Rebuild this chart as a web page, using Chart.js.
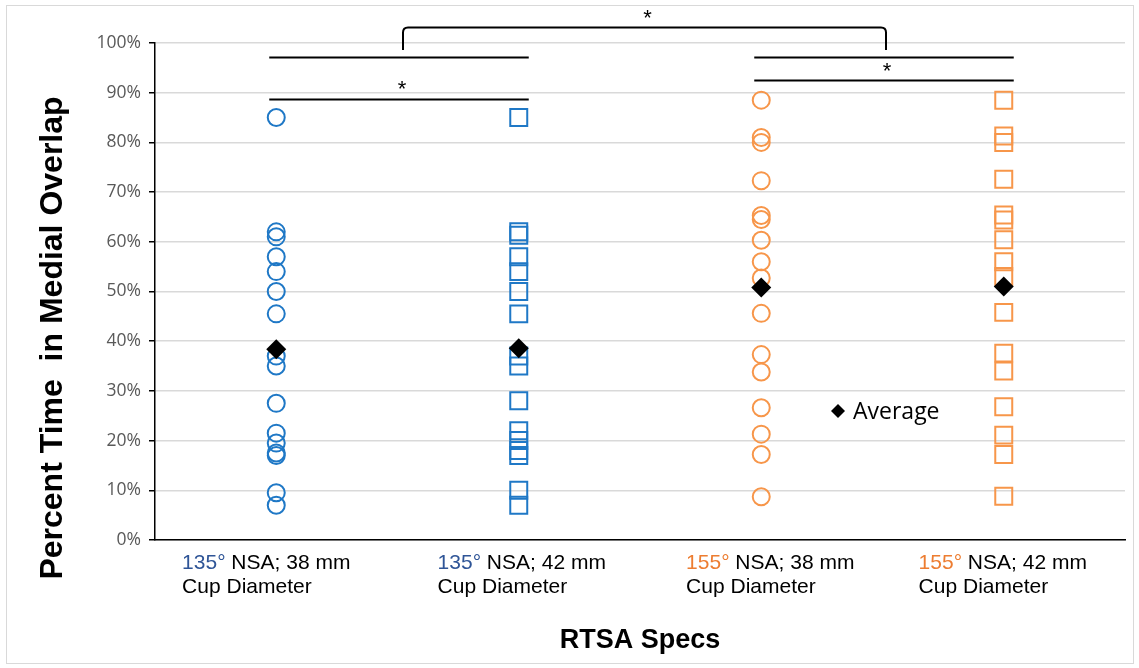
<!DOCTYPE html>
<html>
<head>
<meta charset="utf-8">
<script src="https://cdn.jsdelivr.net/npm/chart.js@4.4.1/dist/chart.umd.min.js"></script>
<style>
  html, body { margin: 0; padding: 0; background: #fff; }
  #chart { display: block; }
</style>
</head>
<body>
<canvas id="chart" width="1139" height="668"></canvas>
<script>
/* ---- Data ---- */
const categories = ["135_38", "135_42", "155_38", "155_42"];
const labelAngle = ["135°", "135°", "155°", "155°"];
const labelRest = [" NSA; 38 mm", " NSA; 42 mm", " NSA; 38 mm", " NSA; 42 mm"];
const labelLine2 = "Cup Diameter";
const yTicks = [0, 10, 20, 30, 40, 50, 60, 70, 80, 90, 100];

const nsa135cup38 = [85, 62, 61, 57, 54, 50, 45.5, 37, 35, 27.5, 21.5, 19.5, 17.5, 17, 9.5, 7];
const nsa135cup42 = [85, 62, 61.3, 57, 54, 50, 45.5, 37, 35, 28, 22, 20, 18, 17, 10, 7];
const nsa155cup38 = [88.5, 81, 80, 72.3, 65.3, 64.5, 60.3, 56, 52.7, 45.6, 37.3, 33.8, 26.6, 21.3, 17.2, 8.7];
const nsa155cup42 = [88.5, 81.3, 80, 72.6, 65.4, 64.4, 60.4, 56, 53, 45.8, 37.6, 34, 26.8, 21.1, 17.2, 8.8];
const averages = [38.4, 38.6, 50.8, 51.0];

// significance bars (category index span, level in %)
const sigLines = [
  { from: 0, to: 1, level: 97.2 },
  { from: 0, to: 1, level: 88.7, star: 91.3 },
  { from: 2, to: 3, level: 97.2 },
  { from: 2, to: 3, level: 92.6, star: 95.0 }
];
const sigBracket = { legLow: 98.6, top: 103.2, star: 105.6 };

const BLUE = "#1f78c6";
const ORANGE = "#f7964a";
const FONT = '"Liberation Sans", Arial, sans-serif';
// the hand-placed text boxes under each column are not exactly centred
const labelNudge = [-10, 3, 9, -1];

function column(idx, values){
  return values.map(v => ({ x: categories[idx], y: v }));
}

/* ---- Extra drawing: titles, tick labels, significance bars, legend ---- */
const overlay = {
  id: "overlay",
  afterDraw(chart){
    const { ctx, chartArea } = chart;
    const x = chart.scales.x, y = chart.scales.y;
    ctx.save();

    // outer frame
    ctx.strokeStyle = "#d9d9d9";
    ctx.lineWidth = 1;
    ctx.strokeRect(6.5, 5.5, 1127, 658);

    // y title
    ctx.save();
    ctx.translate(53, 338);
    ctx.rotate(-Math.PI / 2);
    ctx.font = "bold 32px " + FONT;
    ctx.fillStyle = "#000";
    ctx.textAlign = "center";
    ctx.textBaseline = "middle";
    ctx.fillText("Percent Time  in Medial Overlap", 0, 0);
    ctx.restore();

    // category labels (two lines, coloured angle)
    ctx.font = "21px " + FONT;
    ctx.textBaseline = "alphabetic";
    ctx.textAlign = "left";
    categories.forEach((c, i) => {
      const cx = x.getPixelForValue(i);
      const w1 = ctx.measureText(labelAngle[i] + labelRest[i]).width;
      const w2 = ctx.measureText(labelLine2).width;
      const left = cx - Math.max(w1, w2) / 2 + labelNudge[i];
      const base = chartArea.bottom + 29;
      ctx.fillStyle = i < 2 ? "#2f5597" : "#ed7d31";
      ctx.fillText(labelAngle[i], left, base);
      const aw = ctx.measureText(labelAngle[i]).width;
      ctx.fillStyle = "#000";
      ctx.fillText(labelRest[i], left + aw, base);
      ctx.fillText(labelLine2, left, base + 24);
    });

    // significance lines
    ctx.strokeStyle = "#000";
    ctx.lineWidth = 2;
    ctx.fillStyle = "#000";
    ctx.font = "22px " + FONT;
    ctx.textAlign = "center";
    ctx.textBaseline = "middle";
    const mids = [];
    sigLines.forEach(s => {
      const x1 = x.getPixelForValue(s.from) - 7;
      const x2 = x.getPixelForValue(s.to) + 10;
      const yy = Math.round(y.getPixelForValue(s.level)) + 0.5;
      ctx.beginPath();
      ctx.moveTo(x1, yy);
      ctx.lineTo(x2, yy);
      ctx.stroke();
      if(s.star !== undefined){
        ctx.fillText("*", (x1 + x2) / 2 + 3, y.getPixelForValue(s.star) + 4);
      } else {
        mids.push((x1 + x2) / 2);
      }
    });

    // bracket joining the two pairs
    const bx1 = mids[0] + 4, bx2 = mids[1] + 2;
    const yLow = y.getPixelForValue(sigBracket.legLow);
    const yTop = Math.round(y.getPixelForValue(sigBracket.top)) + 0.5;
    const r = 5;
    ctx.beginPath();
    ctx.moveTo(bx1, yLow);
    ctx.lineTo(bx1, yTop + r);
    ctx.quadraticCurveTo(bx1, yTop, bx1 + r, yTop);
    ctx.lineTo(bx2 - r, yTop);
    ctx.quadraticCurveTo(bx2, yTop, bx2, yTop + r);
    ctx.lineTo(bx2, yLow);
    ctx.stroke();
    ctx.fillText("*", (bx1 + bx2) / 2 + 3, y.getPixelForValue(sigBracket.star) + 4);

    // legend
    const lx = 838, ly = 411;
    ctx.beginPath();
    ctx.moveTo(lx, ly - 7);
    ctx.lineTo(lx + 7, ly);
    ctx.lineTo(lx, ly + 7);
    ctx.lineTo(lx - 7, ly);
    ctx.closePath();
    ctx.fill();
    ctx.font = '23px "Open Sans", sans-serif';
    ctx.textAlign = "left";
    ctx.fillText("Average", lx + 15, ly + 1);

    ctx.restore();
  }
};

/* ---- Chart ---- */
const pointSet = (label, data, color, style, radius) => ({
  label, data,
  showLine: false,
  pointStyle: style,
  pointRadius: radius,
  pointHoverRadius: radius,
  pointBorderWidth: 2,
  pointBorderColor: color,
  pointBackgroundColor: "rgba(0,0,0,0)",
  order: 1
});

new Chart(document.getElementById("chart"), {
  type: "line",
  data: {
    labels: categories,
    datasets: [
      {
        label: "Average",
        data: averages.map((v, i) => ({ x: categories[i], y: v })),
        showLine: false,
        pointStyle: "rectRot",
        pointRadius: 10,
        pointHoverRadius: 10,
        pointBorderWidth: 0,
        pointBackgroundColor: "#000",
        pointBorderColor: "#000",
        order: 0
      },
      pointSet("135 38", column(0, nsa135cup38), BLUE, "circle", 8.5),
      pointSet("135 42", column(1, nsa135cup42), BLUE, "rect", 12),
      pointSet("155 38", column(2, nsa155cup38), ORANGE, "circle", 8.5),
      pointSet("155 42", column(3, nsa155cup42), ORANGE, "rect", 12)
    ]
  },
  options: {
    responsive: false,
    animation: false,
    layout: { padding: { top: 43, right: 10, bottom: 0, left: 0 } },
    plugins: { legend: { display: false }, tooltip: { enabled: false } },
    scales: {
      x: {
        type: "category",
        offset: true,
        grid: { display: false },
        border: { display: true, color: "#000", width: 1.5 },
        ticks: { display: false },
        title: {
          display: true,
          text: "RTSA Specs",
          color: "#000",
          font: { family: FONT, size: 27, weight: "bold" },
          padding: { top: 0, bottom: 11 }
        },
        afterFit(scale){ scale.height = 128; }
      },
      y: {
        min: 0,
        max: 100,
        afterBuildTicks(scale){ scale.ticks = yTicks.map(v => ({ value: v })); },
        grid: {
          color: "#d9d9d9",
          lineWidth: 1.5,
          drawTicks: true,
          tickLength: 6,
          tickColor: "#000"
        },
        border: { display: true, color: "#000", width: 1.5 },
        ticks: {
          color: "#595959",
          padding: 8,
          font: { family: '"Open Sans", sans-serif', size: 17.5 },
          callback: v => v + "%"
        },
        afterFit(scale){ scale.width = 155; }
      }
    }
  },
  plugins: [overlay]
});
</script>
</body>
</html>
